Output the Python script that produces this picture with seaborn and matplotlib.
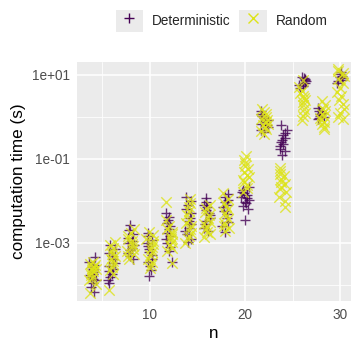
import matplotlib
matplotlib.use("Agg")
import matplotlib.pyplot as plt
import pandas as pd
import seaborn as sns
from matplotlib.legend_handler import HandlerLine2D
from matplotlib.lines import Line2D
from matplotlib.patches import Rectangle
from matplotlib.ticker import FixedLocator, FuncFormatter

# Data: log10 of computation time (s)
n_values = [4, 6, 8, 10, 12, 14, 16, 18, 20, 22, 24, 26, 28, 30]

det_log10 = [
    [-3.35, -3.45, -3.52, -3.58, -3.62, -3.66, -3.70, -3.74, -3.78, -3.82, -3.86, -3.90, -3.95, -4.05, -4.18],
    [-3.05, -3.15, -3.25, -3.32, -3.40, -3.48, -3.55, -3.62, -3.68, -3.75, -3.82, -3.90, -3.97],
    [-2.58, -2.70, -2.80, -2.88, -2.95, -3.00, -3.06, -3.12, -3.18, -3.25, -3.32, -3.40],
    [-2.76, -2.85, -2.93, -3.00, -3.08, -3.15, -3.22, -3.30, -3.38, -3.46, -3.55, -3.65, -3.80],
    [-2.30, -2.38, -2.45, -2.52, -2.60, -2.68, -2.76, -2.84, -2.92, -3.00, -3.10, -3.20, -3.46],
    [-1.90, -2.00, -2.10, -2.20, -2.30, -2.40, -2.48, -2.56, -2.64, -2.72, -2.80, -2.90, -2.98],
    [-1.94, -2.04, -2.10, -2.16, -2.22, -2.28, -2.34, -2.40, -2.48, -2.56, -2.64, -2.72],
    [-1.85, -1.92, -1.98, -2.04, -2.10, -2.16, -2.24, -2.32, -2.40, -2.50, -2.60, -2.74],
    [-1.68, -1.74, -1.78, -1.82, -1.86, -1.90, -1.94, -1.98, -2.02, -2.06, -2.12, -2.20, -2.45],
    [0.15, 0.08, 0.02, -0.03, -0.08, -0.12, -0.16, -0.20, -0.25, -0.30, -0.36],
    [-0.19, -0.30, -0.38, -0.44, -0.50, -0.55, -0.60, -0.65, -0.70, -0.76, -0.82, -0.91],
    [0.96, 0.92, 0.90, 0.87, 0.85, 0.82, 0.80, 0.77, 0.74, 0.70],
    [0.22, 0.15, 0.10, 0.06, 0.03, 0.00, -0.03, -0.06],
    [1.08, 1.02, 0.98, 0.95, 0.92, 0.88, 0.85, 0.82],
]

rnd_log10 = [
    [-3.45, -3.50, -3.54, -3.57, -3.60, -3.62, -3.65, -3.68, -3.72, -3.78, -3.84, -3.90, -3.98, -4.20],
    [-2.98, -3.05, -3.12, -3.20, -3.26, -3.32, -3.38, -3.44, -3.50, -3.58, -3.65, -3.75, -4.13],
    [-2.68, -2.76, -2.84, -2.90, -2.96, -3.02, -3.08, -3.14, -3.20, -3.26, -3.32, -3.38],
    [-2.74, -2.82, -2.90, -2.97, -3.03, -3.10, -3.16, -3.22, -3.30, -3.38, -3.45, -3.52, -3.60],
    [-2.02, -2.45, -2.60, -2.68, -2.74, -2.80, -2.86, -2.92, -2.98, -3.05, -3.12, -3.20, -3.48],
    [-1.95, -2.05, -2.15, -2.25, -2.35, -2.45, -2.52, -2.60, -2.68, -2.76, -2.84, -2.92, -3.00],
    [-2.10, -2.18, -2.26, -2.34, -2.42, -2.50, -2.56, -2.62, -2.68, -2.74, -2.80, -2.86],
    [-1.82, -1.95, -2.05, -2.12, -2.20, -2.28, -2.36, -2.44, -2.52, -2.60, -2.66, -2.72],
    [-0.93, -1.02, -1.10, -1.18, -1.25, -1.32, -1.38, -1.44, -1.50, -1.56, -1.62, -1.70, -1.78],
    [0.19, 0.12, 0.06, 0.01, -0.04, -0.08, -0.12, -0.16, -0.20, -0.24, -0.28, -0.34, -0.40],
    [-1.22, -1.30, -1.36, -1.42, -1.48, -1.54, -1.60, -1.66, -1.72, -1.80, -1.90, -2.00, -2.15],
    [0.88, 0.72, 0.62, 0.56, 0.50, 0.45, 0.40, 0.35, 0.28, 0.20, 0.10, 0.02, -0.07],
    [0.38, 0.28, 0.20, 0.14, 0.08, 0.03, -0.02, -0.07, -0.12, -0.18, -0.24, -0.29],
    [1.14, 1.10, 1.04, 0.98, 0.90, 0.80, 0.70, 0.60, 0.50, 0.40, 0.30, 0.20, 0.10, 0.00, -0.05],
]

methods = ["Deterministic", "Random"]
colors = {"Deterministic": "#440154", "Random": "#DDE318"}
markers = {"Deterministic": "+", "Random": "x"}

rows = []
for n, d, r in zip(n_values, det_log10, rnd_log10):
    rows += [(n, "Deterministic", 10 ** v) for v in d]
    rows += [(n, "Random", 10 ** v) for v in r]
df = pd.DataFrame(rows, columns=["n", "method", "time"])

# ggplot-like grey theme
sns.set_theme(style="darkgrid", rc={"axes.facecolor": "#EBEBEB", "grid.color": "white"})
plt.rcParams["font.family"] = ["Liberation Sans", "DejaVu Sans"]

fig = plt.figure(figsize=(3.52, 3.42), dpi=100)
ax = fig.add_axes([77 / 352, 1 - 301 / 342, 274 / 352, 239 / 342])
ax.set_yscale("log")

for m in methods:
    sns.stripplot(data=df[df["method"] == m], x="n", y="time", orient="x",
                  native_scale=True, jitter=0.2, marker=markers[m], color=colors[m],
                  s=7.5, linewidth=1.0, alpha=0.8, ax=ax, legend=False)

ax.set_xlim(2.37, 31.12)
ax.set_ylim(10 ** -4.39, 10 ** 1.31)
ax.xaxis.set_major_locator(FixedLocator([10, 20, 30]))
ax.xaxis.set_minor_locator(FixedLocator([5, 15, 25]))
ax.yaxis.set_major_locator(FixedLocator([1e-3, 1e-1, 1e1]))
ax.yaxis.set_minor_locator(FixedLocator([1e-4, 1e-2, 1e0]))
ax.yaxis.set_major_formatter(FuncFormatter(lambda v, p: f"{v:.0e}"))
ax.yaxis.set_minor_formatter(FuncFormatter(lambda v, p: ""))
ax.grid(which="major", color="white", linewidth=1.1)
ax.grid(which="minor", color="white", linewidth=0.55)
ax.set_axisbelow(True)
for s in ax.spines.values():
    s.set_visible(False)
ax.tick_params(which="major", length=3, width=0.8, color="#333333",
               labelcolor="#4D4D4D", labelsize=9.8, pad=2)
ax.tick_params(which="minor", length=0)
ax.set_xlabel("n", fontsize=12.3, color="black", labelpad=3)
ax.set_ylabel("computation time (s)", fontsize=12.3, color="black", labelpad=4)


# Legend keys with a grey background box, like ggplot
class KeyHandler(HandlerLine2D):
    def create_artists(self, legend, orig_handle, xdescent, ydescent, width, height, fontsize, trans):
        bg = Rectangle((-xdescent, -ydescent), width, height, facecolor="#EBEBEB",
                       edgecolor="none", transform=trans)
        arts = super().create_artists(legend, orig_handle, xdescent, ydescent,
                                      width, height, fontsize, trans)
        return [bg] + list(arts)


handles = [Line2D([], [], linestyle="None", marker=markers[m], color=colors[m],
                  markersize=7, markeredgewidth=1.0) for m in methods]
fig.legend(handles, methods, loc="center", bbox_to_anchor=(221.5 / 352, 1 - 21 / 342),
           ncol=2, frameon=False, fontsize=9.8, handlelength=2.0, handleheight=2.0,
           handletextpad=0.66, columnspacing=0.66, borderpad=0, borderaxespad=0,
           handler_map={Line2D: KeyHandler()})

fig.savefig("out.png", dpi=100)
